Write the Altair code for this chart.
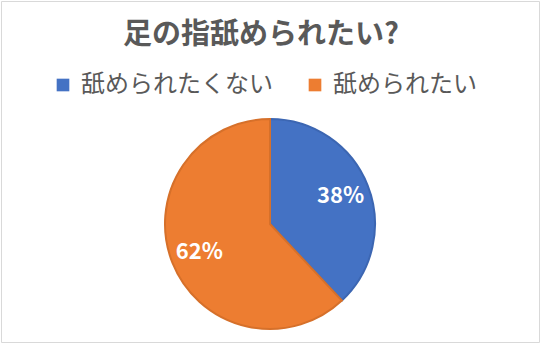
import altair as alt
import pandas as pd

categories = ["舐められたくない", "舐められたい"]
values = [38, 62]
colors = ["#4472C4", "#ED7D31"]
edge_colors = ["#3C66B2", "#D6702A"]
title_text = "足の指舐められたい?"

df = pd.DataFrame({
    "category": categories,
    "value": values,
    "order": list(range(len(categories))),
    "label": [f"{v}%" for v in values],
})

W, H = 538, 341
cx, cy = 269, 223
FONT = "Noto Sans CJK JP"

base = alt.Chart(df).encode(
    theta=alt.Theta("value:Q", stack=True),
    order=alt.Order("order:Q", sort="ascending"),
)

pie = base.mark_arc(outerRadius=105, strokeWidth=2).encode(
    x=alt.value(cx),
    y=alt.value(cy),
    color=alt.Color(
        "category:N",
        scale=alt.Scale(domain=categories, range=colors),
        legend=alt.Legend(
            title=None, orient="none", direction="horizontal", columns=2,
            legendX=50, legendY=72, symbolType="square", symbolSize=160,
            labelFontSize=24, labelColor="#595959", labelFont=FONT,
            columnPadding=30, labelOffset=6, symbolStrokeWidth=0,
            padding=0, labelLimit=400,
        ),
    ),
    stroke=alt.Stroke("category:N", scale=alt.Scale(domain=categories, range=edge_colors), legend=None),
)

labels = base.mark_text(
    radius=76, fontSize=22, fontWeight="bold", color="white", font=FONT,
    align="center", baseline="middle",
).encode(
    x=alt.value(cx),
    y=alt.value(cy),
    text="label:N",
)

title = alt.Chart(pd.DataFrame({"t": [title_text]})).mark_text(
    fontSize=29, fontWeight="bold", color="#595959", font=FONT,
    align="center", baseline="middle",
).encode(x=alt.value(260), y=alt.value(34), text="t:N")

chart = alt.layer(pie, labels, title).properties(
    width=W, height=H, autosize="none",
    padding={"left": 1, "top": 1, "right": 1, "bottom": 1},
).configure_view(stroke="#d9d9d9", strokeWidth=1)

chart.save("out.html", embed_options={"renderer": "svg", "actions": False})
